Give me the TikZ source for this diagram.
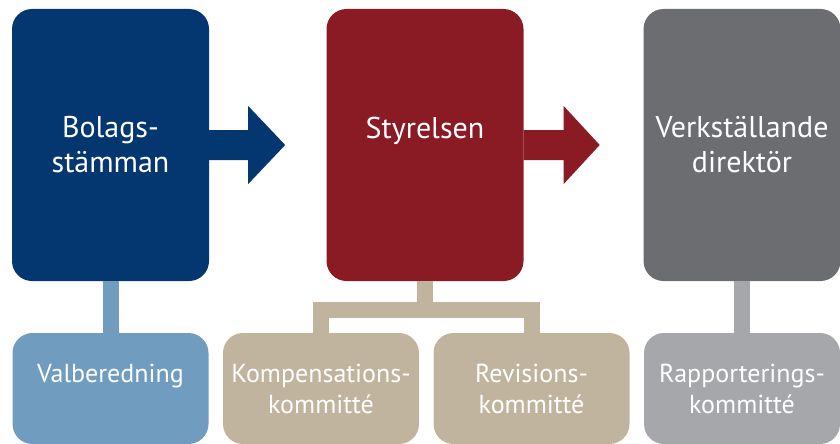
\documentclass[tikz,border=0pt]{standalone}
\usepackage{fontspec}
\setmainfont{PT Sans}
\usepackage{tikz}
\usetikzlibrary{positioning}

\definecolor{stamblue}{RGB}{4,55,111}
\definecolor{styred}{RGB}{138,26,36}
\definecolor{vdgray}{RGB}{108,109,113}
\definecolor{valblue}{RGB}{112,156,192}
\definecolor{kombeige}{RGB}{192,180,159}
\definecolor{rapgray}{RGB}{166,167,171}

\begin{document}
\begin{tikzpicture}[x=1pt, y=1pt, on grid,
	bigbox/.style={rounded corners=20pt, minimum width=197pt, minimum height=272pt, inner sep=0pt, text=white, align=center, font=\fontsize{30}{35}\selectfont},
	subbox/.style={rounded corners=20pt, minimum width=196pt, minimum height=111pt, inner sep=0pt, text=white, align=center, font=\fontsize{26}{31}\selectfont},
	link/.style={line width=16pt}]
	\useasboundingbox (0,0) rectangle (840,-444);
	\node[bigbox, fill=stamblue] (bs) at (110.5,-145) {Bolags-\\stämman};
	\node[bigbox, fill=styred] (sty) [right=314.5 of bs] {Styrelsen\\\mbox{}};
	\node[bigbox, fill=vdgray] (vd) [right=317 of sty] {Verkställande\\direktör};
	\node[subbox, fill=valblue] (val) [below=243.5 of bs] {Valberedning\\\mbox{}};
	\node[subbox, fill=kombeige] (komp) [right=210.5 of val] {Kompensations-\\kommitté};
	\node[subbox, fill=kombeige] (rev) [right=210.5 of komp] {Revisions-\\kommitté};
	\node[subbox, fill=rapgray] (rap) [right=210.5 of rev] {Rapporterings-\\kommitté};
	\coordinate (fork) at ([yshift=-28.5pt]sty.south);
	% arrows
	\fill[stamblue] ([yshift=15pt]bs.east) -- ++(39,0) -- ++(0,24) -- ++(37,-39) -- ++(-37,-39) -- ++(0,24) -- ([yshift=-15pt]bs.east) -- cycle;
	\fill[styred] ([yshift=15pt]sty.east) -- ++(40,0) -- ++(0,24) -- ++(36,-39) -- ++(-36,-39) -- ++(0,24) -- ([yshift=-15pt]sty.east) -- cycle;
	% links
	\draw[link, valblue] (bs.south) -- (val.north);
	\draw[link, kombeige] (sty.south) -- (fork);
	\draw[link, kombeige] (komp.north) |- (fork) -| (rev.north);
	\draw[link, rapgray] (vd.south) -- (rap.north);
\end{tikzpicture}
\end{document}
